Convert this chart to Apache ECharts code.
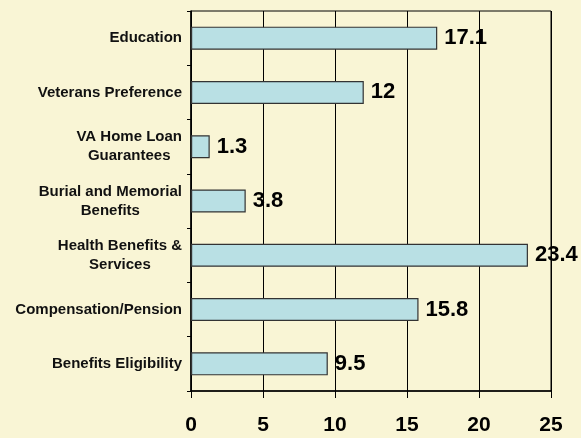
<!DOCTYPE html>
<html>
<head>
<meta charset="utf-8">
<script src="https://cdn.jsdelivr.net/npm/echarts@6/dist/echarts.min.js"></script>
<style>
    html, body { margin: 0; padding: 0; background: #f9f5d5; }
    #chart { width: 581px; height: 438px; }
</style>
</head>
<body>
<div id="chart"></div>
<script>
// categories top to bottom, as in the picture
const categories = [
    'Education',
    'Veterans Preference',
    'VA Home Loan\nGuarantees',
    'Burial and Memorial\nBenefits',
    'Health Benefits &\nServices',
    'Compensation/Pension',
    'Benefits Eligibility',
];
const values = [17.1, 12, 1.3, 3.8, 23.4, 15.8, 9.5];
const xTicks = [0, 5, 10, 15, 20, 25];

const myChart = echarts.init(document.getElementById('chart'), null, { renderer: 'canvas' });

const option = {
    backgroundColor: '#f9f5d5',
    animation: false,
    grid: {
        left: 191,
        right: 30,
        top: 11,
        bottom: 47,
        show: true,
        borderColor: '#000',
        borderWidth: 1,
        backgroundColor: 'transparent',
    },
    xAxis: {
        type: 'value',
        min: xTicks[0],
        max: xTicks[xTicks.length - 1],
        interval: 5,
        axisLine: { show: true, lineStyle: { color: '#000', width: 1.5 } },
        axisTick: { show: true, length: 7, lineStyle: { color: '#000' } },
        axisLabel: {
            color: '#000',
            fontFamily: 'Liberation Sans, Arial, sans-serif',
            fontWeight: 'bold',
            fontSize: 21,
            margin: 24,
        },
        splitLine: { show: true, lineStyle: { color: '#000', width: 1 } },
    },
    yAxis: {
        type: 'category',
        inverse: true,
        data: categories,
        axisLine: { show: true, lineStyle: { color: '#000', width: 1.5 } },
        axisTick: { show: true, length: 4, lineStyle: { color: '#000' } },
        axisLabel: {
            margin: 9,
            lineHeight: 19,
            formatter: v => v.split('\n').map(l => '{c|' + l + '}').join('\n'),
            rich: {
                c: {
                    align: 'center',
                    color: '#111',
                    fontFamily: 'Liberation Sans, Arial, sans-serif',
                    fontWeight: 'bold',
                    fontSize: 15,
                    lineHeight: 19,
                },
            },
        },
    },
    series: [
        {
            type: 'bar',
            data: values,
            barWidth: 23,
            itemStyle: {
                color: '#b9e0e4',
                borderColor: '#333',
                borderWidth: 1.2,
            },
            label: {
                show: true,
                position: 'right',
                distance: 7,
                color: '#000',
                fontFamily: 'Liberation Sans, Arial, sans-serif',
                fontWeight: 'bold',
                fontSize: 22,
            },
        },
    ],
};

myChart.setOption(option);
</script>
</body>
</html>
